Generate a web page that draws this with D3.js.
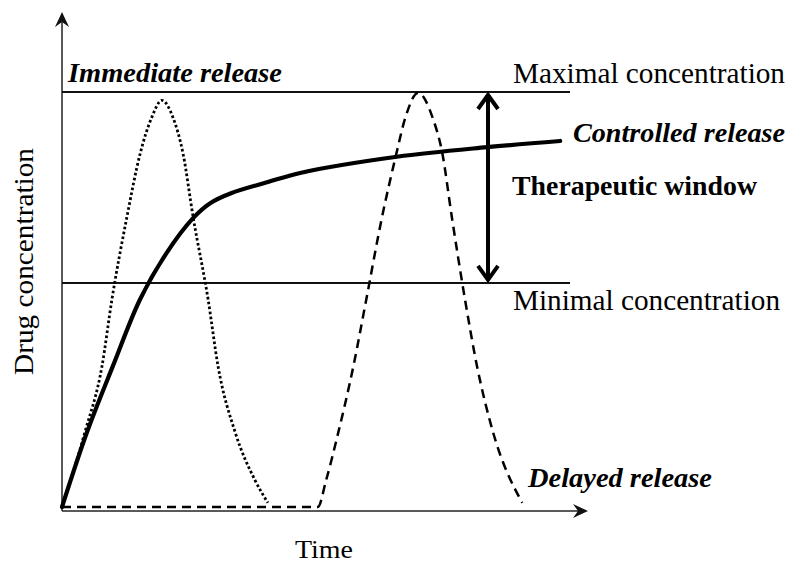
<!DOCTYPE html>
<html>
<head>
<meta charset="utf-8">
<script src="https://cdn.jsdelivr.net/npm/d3@7"></script>
<style>
  body { margin: 0; background: #fff; }
</style>
</head>
<body>
<div id="chart"></div>
<script>
// release profiles, time (arbitrary units) vs drug concentration (% of max)
var immediateTime = [0, 0.44, 0.77, 0.96, 1.25, 1.5, 1.73, 1.92, 2.13, 2.33, 2.52, 2.81, 3.0, 3.33, 3.71, 3.96];
var immediateConc = [0, 18, 34, 50, 70, 85, 94, 98, 94, 85, 70, 50, 34, 18, 6.5, 1];

var controlledTime = [0, 0.48, 0.98, 1.5, 2.0, 2.52, 2.85, 3.25, 3.96, 4.58, 6.44, 8.17, 9.58];
var controlledConc = [0, 18, 34, 50, 61, 69.6, 73.2, 75.6, 78.3, 80.5, 84.4, 86.7, 88.2];

var delayedTime = [0, 4.92, 5.08, 5.31, 5.6, 5.85, 6.15, 6.42, 6.6, 6.85, 7.13, 7.31, 7.5, 7.75, 7.98, 8.29, 8.85];
var delayedConc = [0, 0, 6.5, 17.8, 33.7, 49.9, 69.6, 84.6, 93.7, 99.8, 93.7, 85.5, 69.6, 50, 34, 18, 1];

var maxConc = 100, minConc = 54;

var width = 790, height = 563;
var serif = "'Liberation Serif', 'Times New Roman', serif";

var x = d3.scaleLinear().domain([0, 10]).range([62, 582]);
var y = d3.scaleLinear().domain([0, 100]).range([507, 92]);

var svg = d3.select("#chart").append("svg")
    .attr("width", width)
    .attr("height", height)
    .style("font-family", serif);

function zip(ts, cs) {
    return ts.map(function (t, i) { return { t: t, c: cs[i] }; });
}

var line = d3.line()
    .x(function (d) { return x(d.t); })
    .y(function (d) { return y(d.c); })
    .curve(d3.curveMonotoneX);

var smooth = d3.line()
    .x(function (d) { return x(d.t); })
    .y(function (d) { return y(d.c); })
    .curve(d3.curveCatmullRom.alpha(0.5));

// axes (plain arrows, no ticks)
var x0 = x(0), yAxisY = y(0) + 4;
svg.append("line")
    .attr("x1", x0).attr("y1", yAxisY).attr("x2", x0).attr("y2", 16)
    .attr("stroke", "#222").attr("stroke-width", 1.5);
svg.append("line")
    .attr("x1", x0).attr("y1", yAxisY).attr("x2", 584).attr("y2", yAxisY)
    .attr("stroke", "#222").attr("stroke-width", 1.5);
svg.append("path")
    .attr("d", "M" + x0 + ",12 L" + (x0 + 7) + ",27 L" + x0 + ",22 L" + (x0 - 7) + ",27 Z")
    .attr("fill", "#111");
svg.append("path")
    .attr("d", "M588," + yAxisY + " L573," + (yAxisY - 7) + " L578," + yAxisY + " L573," + (yAxisY + 7) + " Z")
    .attr("fill", "#111");

// max / min concentration lines
svg.selectAll(".limit")
    .data([maxConc, minConc])
    .enter().append("line")
    .attr("class", "limit")
    .attr("x1", x0).attr("x2", 570)
    .attr("y1", function (d) { return y(d); })
    .attr("y2", function (d) { return y(d); })
    .attr("stroke", "#111").attr("stroke-width", 2);

// therapeutic window double arrow
var ax = 488;
svg.append("line")
    .attr("x1", ax).attr("y1", y(maxConc) + 3).attr("x2", ax).attr("y2", y(minConc) - 3)
    .attr("stroke", "#000").attr("stroke-width", 4);
svg.append("path")
    .attr("d", "M" + (ax - 10) + "," + (y(maxConc) + 17) + " L" + ax + "," + (y(maxConc) + 3) + " L" + (ax + 10) + "," + (y(maxConc) + 17))
    .attr("fill", "none").attr("stroke", "#000").attr("stroke-width", 4);
svg.append("path")
    .attr("d", "M" + (ax - 10) + "," + (y(minConc) - 17) + " L" + ax + "," + (y(minConc) - 3) + " L" + (ax + 10) + "," + (y(minConc) - 17))
    .attr("fill", "none").attr("stroke", "#000").attr("stroke-width", 4);

// curves
svg.append("path")
    .datum(zip(delayedTime, delayedConc))
    .attr("d", line)
    .attr("fill", "none").attr("stroke", "#000")
    .attr("stroke-width", 2.5).attr("stroke-dasharray", "9,6");

svg.append("path")
    .datum(zip(immediateTime, immediateConc))
    .attr("d", line)
    .attr("fill", "none").attr("stroke", "#000")
    .attr("stroke-width", 2.8).attr("stroke-dasharray", "2.6,2.4");

svg.append("path")
    .datum(zip(controlledTime, controlledConc))
    .attr("d", smooth)
    .attr("fill", "none").attr("stroke", "#000")
    .attr("stroke-width", 4.2).attr("stroke-linecap", "round");

// labels
function label(txt, px, py, size, len, weight, style) {
    svg.append("text")
        .attr("x", px).attr("y", py)
        .attr("font-family", serif)
        .attr("font-size", size)
        .attr("font-weight", weight || "normal")
        .attr("font-style", style || "normal")
        .attr("fill", "#000")
        .attr("textLength", len)
        .attr("lengthAdjust", "spacingAndGlyphs")
        .text(txt);
}
label("Immediate release", 68, 82, 28, 214, "bold", "italic");
label("Maximal concentration", 513, 83, 28.5, 272);
label("Controlled release", 573, 142, 28, 212, "bold", "italic");
label("Therapeutic window", 512, 195, 28, 245, "bold");
label("Minimal concentration", 513, 310, 28.5, 267);
label("Delayed release", 528, 487, 28, 184, "bold", "italic");
label("Time", 295, 558, 26, 58);

svg.append("text")
    .attr("transform", "translate(33,375) rotate(-90)")
    .attr("font-family", serif)
    .attr("font-size", 27)
    .attr("fill", "#000")
    .attr("textLength", 227)
    .attr("lengthAdjust", "spacingAndGlyphs")
    .text("Drug concentration");
</script>
</body>
</html>
